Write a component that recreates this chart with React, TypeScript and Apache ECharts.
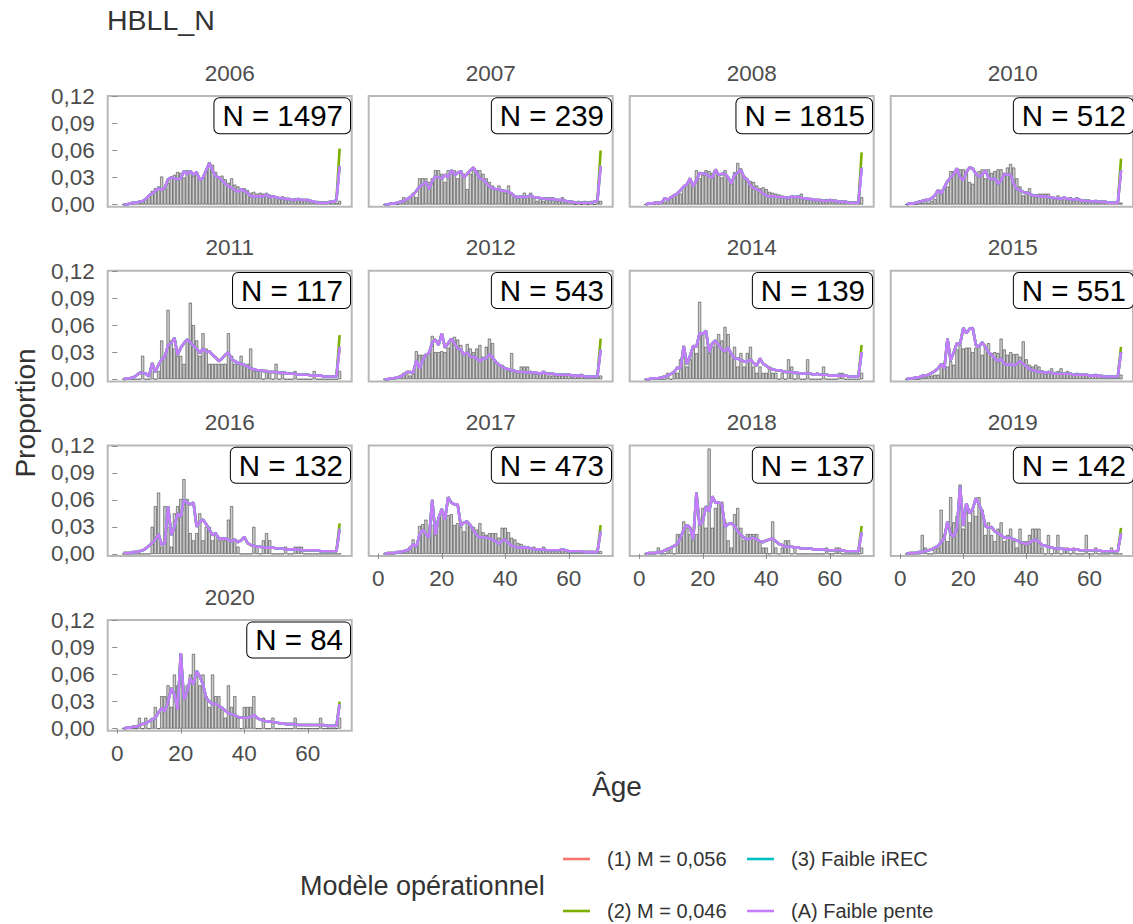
import React, { useEffect, useRef } from 'react';
import * as echarts from 'echarts';

const FONT = '"Liberation Sans", Arial, Helvetica, sans-serif';

// ---------------- DATA ----------------
const chartTitle = 'HBLL_N';
const years = ['2006', '2007', '2008', '2010', '2011', '2012', '2014', '2015', '2016', '2017', '2018', '2019', '2020'];
const sampleSizes = [1497, 239, 1815, 512, 117, 543, 139, 551, 132, 473, 137, 142, 84];
// ages 2..70 (70 = plus group)
const ages = [
  2, 3, 4, 5, 6, 7, 8, 9, 10, 11,
  12, 13, 14, 15, 16, 17, 18, 19, 20, 21,
  22, 23, 24, 25, 26, 27, 28, 29, 30, 31,
  32, 33, 34, 35, 36, 37, 38, 39, 40, 41,
  42, 43, 44, 45, 46, 47, 48, 49, 50, 51,
  52, 53, 54, 55, 56, 57, 58, 59, 60, 61,
  62, 63, 64, 65, 66, 67, 68, 69, 70,
];
const xTicks = [0, 20, 40, 60];
const yTicks = [0, 0.03, 0.06, 0.09, 0.12];

// observed proportions (x 1000)
const obs2006 = [0,0,1,1,2,2,4,7,10,15, 18,20,31,17,24,30,33,36,35,30, 38,36,32,35,27,30,38,47,44,36, 30,32,28,24,29,22,20,17,18,16, 13,14,12,13,12,13,11,10,9,8, 9,7,7,6,7,6,5,5,6,4, 3,4,3,2,3,2,3,2,4];
const obs2007 = [0,0,0,0,0,4,8,4,8,13, 8,29,29,29,25,29,38,38,34,25, 38,34,38,29,38,34,17,34,38,38, 38,34,29,25,21,17,21,17,13,21, 13,8,8,8,13,8,13,8,4,8, 4,8,8,8,4,4,8,4,4,4, 0,4,0,4,0,4,0,4,4];
const obs2008 = [0,0,1,1,1,2,3,5,8,11, 13,12,20,23,28,24,38,29,33,38, 37,35,35,33,30,38,30,28,36,46, 40,32,28,26,25,21,18,19,17,14, 13,12,11,10,9,9,10,9,8,12, 7,7,6,6,5,5,5,6,5,4, 4,4,4,3,3,3,3,2,8];
const obs2010 = [0,0,0,0,2,2,4,2,4,6, 14,16,18,20,37,37,35,39,39,37, 25,23,35,37,39,29,39,35,37,39, 39,35,41,45,41,29,20,10,14,18, 10,8,12,12,12,12,8,6,10,8, 8,6,8,6,8,6,4,4,4,4, 4,2,4,4,2,2,2,2,2];
const obs2011 = [0,0,0,0,0,0,26,0,0,17, 0,9,43,26,77,43,34,26,26,17, 43,85,60,43,26,51,34,17,17,17, 17,17,17,51,26,17,17,26,17,17, 34,9,9,9,0,9,9,0,17,0, 9,0,0,0,9,0,0,0,0,0, 9,0,0,0,0,0,0,0,9];
const obs2012 = [0,0,0,0,2,4,7,7,4,6, 31,27,27,28,29,48,30,30,31,30, 35,42,47,44,38,28,39,34,30,34, 38,25,36,45,40,20,16,16,12,9, 29,8,9,14,14,14,7,6,6,7, 9,6,4,4,4,4,4,4,6,2, 4,2,6,2,2,2,2,2,4];
const obs2014 = [0,0,0,0,0,0,0,7,0,7, 7,22,29,14,22,36,29,86,50,36, 29,36,43,50,43,58,50,29,36,14, 29,14,29,36,14,7,14,7,7,14, 7,7,0,7,0,22,14,0,7,0, 0,22,0,0,0,0,14,0,0,0, 0,7,7,0,0,0,0,0,7];
const obs2015 = [0,0,0,0,0,2,2,4,4,5, 5,16,18,14,20,16,33,38,34,35, 35,30,35,38,27,36,40,29,30,29, 45,33,27,30,28,28,25,42,22,16, 14,16,14,10,9,8,12,8,9,12, 7,9,7,6,7,6,5,5,5,4, 6,4,5,4,2,2,2,2,5];
const obs2016 = [0,0,0,0,0,0,0,0,0,30, 53,68,8,53,30,8,45,53,61,83, 61,23,15,23,45,15,30,30,15,23, 15,15,15,38,53,15,8,0,0,0, 0,30,8,0,15,23,15,0,0,0, 0,8,0,0,8,8,8,0,0,0, 0,0,0,0,0,0,0,0,0];
const obs2017 = [0,0,0,0,2,2,4,4,8,16, 10,31,33,38,23,32,21,41,44,40, 43,44,32,34,30,25,36,32,30,27, 34,24,21,23,23,23,18,29,29,24, 18,16,12,11,9,8,7,8,6,6, 8,5,4,5,5,4,5,4,3,3, 4,4,2,2,3,2,2,2,3];
const obs2018 = [0,0,0,0,7,0,0,7,7,0, 22,22,36,29,22,15,22,36,51,29, 117,29,51,58,58,36,15,7,44,51, 29,15,22,22,22,22,15,7,7,0, 36,7,0,7,15,15,0,7,0,0, 0,0,0,0,0,0,0,7,0,0, 7,7,0,0,0,0,0,0,7];
const obs2019 = [0,0,0,0,0,21,7,0,0,7, 7,49,21,14,63,35,42,77,28,56, 35,49,42,63,49,21,35,21,14,28, 35,14,21,28,14,7,28,14,14,21, 28,28,28,7,0,21,0,7,21,0, 7,7,0,7,0,0,0,21,0,0, 7,0,0,0,0,7,0,0,0];
const obs2020 = [0,0,0,0,0,12,0,12,0,12, 24,0,36,36,48,24,60,48,83,36, 48,60,83,60,48,60,36,24,60,36, 36,24,12,48,24,36,12,0,24,24, 24,36,0,0,12,0,0,12,0,0, 0,0,0,0,12,0,0,0,0,0, 0,0,12,0,0,0,0,0,12];

// fitted proportions, model (A) Faible pente (x 1000)
const fit2006 = [0,0,1,2,2,3,4,6,10,12, 15,18,16,19,28,30,29,28,29,37, 34,37,33,36,27,30,38,46,38,31, 30,27,23,20,19,16,14,17,15,13, 9,9,9,9,9,11,8,9,8,7, 7,6,6,5,5,6,5,5,5,4, 3,2,2,2,2,3,3,5,43];
const fit2007 = [0,0,1,1,2,3,4,6,8,11, 15,20,22,25,17,26,31,30,29,33, 30,38,33,35,37,30,34,38,41,35, 29,28,24,20,18,17,17,15,15,14, 12,9,8,9,8,9,10,8,8,7, 7,6,6,6,5,5,5,4,3,3, 2,2,2,2,2,2,3,4,43];
const fit2008 = [0,1,1,2,2,2,7,5,8,10, 12,16,20,22,29,20,27,35,34,34, 31,30,39,33,34,34,30,23,33,35, 39,30,28,21,18,17,15,12,10,9, 9,9,8,8,8,7,9,8,9,7, 7,6,6,5,5,5,4,4,5,4, 4,3,3,3,2,2,2,2,41];
const fit2010 = [0,1,1,2,3,4,5,5,7,10, 16,12,19,26,30,34,40,30,27,36, 41,40,34,31,33,38,30,28,29,23, 27,34,33,33,23,17,16,14,13,12, 10,10,9,9,9,8,8,7,7,6, 8,6,6,5,6,5,4,4,4,3, 4,3,3,3,2,2,2,2,38];
const fit2011 = [0,1,1,2,4,7,7,6,3,18, 8,16,22,25,38,40,46,27,35,40, 44,41,37,34,29,34,30,31,27,24, 20,23,27,30,22,20,18,17,16,14, 12,11,10,10,9,9,8,8,8,7, 7,7,6,6,6,5,5,5,5,4, 4,4,4,3,3,3,3,3,36];
const fit2012 = [0,0,1,1,2,3,5,8,8,7, 21,12,21,27,29,41,44,38,51,35, 40,45,40,34,33,27,30,25,25,23, 20,23,23,28,24,19,16,14,12,11, 10,9,8,8,8,7,8,7,7,6, 8,6,6,6,5,5,5,5,5,4, 4,4,4,3,3,3,3,3,33];
const fit2014 = [0,0,1,1,1,2,3,4,6,8, 13,12,37,17,26,37,36,51,50,54, 30,40,43,38,33,31,35,28,23,23, 21,20,19,22,18,15,23,17,15,12, 11,10,10,9,8,8,8,7,7,6, 6,7,6,5,6,5,5,5,4,4, 4,4,4,4,3,3,3,3,30];
const fit2015 = [0,1,1,2,2,4,4,5,7,9, 12,17,12,45,21,30,40,39,57,51, 56,57,38,36,41,36,30,27,23,20, 23,17,16,17,15,17,20,17,14,11, 10,9,8,8,7,8,7,6,6,6, 6,6,6,5,5,5,5,5,4,4, 4,4,3,3,3,3,3,3,30];
const fit2016 = [1,1,1,2,2,3,4,6,9,12, 16,22,10,12,53,21,30,45,41,60, 57,55,57,30,36,38,33,27,21,23, 17,17,17,16,14,16,13,15,19,12, 10,9,8,8,7,7,7,7,6,6, 6,5,5,5,5,5,4,4,4,4, 4,4,3,3,3,3,3,3,28];
const fit2017 = [0,1,1,1,2,2,3,4,6,11, 8,21,27,22,18,60,21,40,50,38, 63,57,55,55,31,35,36,32,26,21, 18,19,18,17,16,14,11,15,16,12, 9,8,7,7,7,7,6,5,5,5, 5,4,4,4,4,4,5,4,3,3, 3,3,3,2,2,2,2,2,25];
const fit2018 = [0,1,1,1,2,2,4,5,7,9, 11,18,27,32,29,16,68,32,36,53, 47,64,57,57,55,30,33,34,31,25, 21,18,16,17,18,16,14,13,15,16, 17,14,11,10,8,8,8,7,7,6, 6,6,6,5,5,5,5,4,4,4, 4,4,4,3,3,3,3,3,24];
const fit2019 = [0,1,1,1,2,2,3,4,5,7, 9,13,18,36,22,19,29,75,31,56, 45,50,62,55,47,31,29,30,25,23, 21,18,18,18,16,15,13,12,11,12, 15,16,13,10,9,8,7,6,6,6, 5,5,5,5,5,4,4,4,4,4, 4,4,3,3,3,3,3,3,23];
const fit2020 = [0,1,1,2,2,4,5,6,8,10, 12,18,23,19,30,45,38,21,84,32, 41,56,49,64,58,49,34,30,27,28, 25,23,20,17,16,15,13,12,12,12, 13,15,12,10,9,8,8,7,7,6, 6,5,5,5,5,4,4,4,4,4, 4,4,4,4,3,3,3,3,27];

// plus-group (age 70) fitted value for model (2) M = 0,046 (x 1000)
const plusM046 = [62, 60, 58, 51, 49, 45, 38, 36, 34, 32, 31, 29, 30];

const observed = [obs2006, obs2007, obs2008, obs2010, obs2011, obs2012, obs2014, obs2015, obs2016, obs2017, obs2018, obs2019, obs2020];
const fitted = [fit2006, fit2007, fit2008, fit2010, fit2011, fit2012, fit2014, fit2015, fit2016, fit2017, fit2018, fit2019, fit2020];

const models = ['(1) M = 0,056', '(2) M = 0,046', '(3) Faible iREC', '(A) Faible pente'];
const modelColors = ['#F8766D', '#7CAE00', '#00BFC4', '#C77CFF'];

// ---------------- LAYOUT ----------------
const colLeft = [107.7, 368.7, 629.7, 890.7];
const rowTop = [96, 270.7, 445.4, 620.1];
const PW = 244;
const PH = 110.7;

function buildOption() {
  const grid: any[] = [];
  const xAxis: any[] = [];
  const yAxis: any[] = [];
  const series: any[] = [];
  const graphic: any[] = [];

  graphic.push({
    type: 'text', left: 107, top: 5,
    style: { text: chartTitle, fontSize: 28.5, fontFamily: FONT, fill: '#333333' },
  });

  years.forEach((yr, i) => {
    const r = Math.floor(i / 4);
    const c = i % 4;
    const left = colLeft[c];
    const top = rowTop[r];
    const showX = i >= 9;
    const showY = c === 0;
    grid.push({
      left, top, width: PW, height: PH, show: true,
      borderColor: '#b8b8b8', borderWidth: 2, backgroundColor: '#ffffff', containLabel: false,
    });
    xAxis.push({
      type: 'value', gridIndex: i, min: -3, max: 73.8,
      axisLine: { show: false }, splitLine: { show: false },
      axisTick: { show: showX, length: 5, lineStyle: { color: '#8c8c8c', width: 1 }, customValues: xTicks },
      axisLabel: { show: showX, customValues: xTicks, fontSize: 22.5, fontFamily: FONT, color: '#4d4d4d', margin: 11 },
    });
    yAxis.push({
      type: 'value', gridIndex: i, min: -0.00244, max: 0.12056,
      axisLine: { show: false }, splitLine: { show: false },
      axisTick: { show: showY, length: 5, lineStyle: { color: '#8c8c8c', width: 1 }, customValues: yTicks },
      axisLabel: {
        show: showY, customValues: yTicks, fontSize: 22.5, fontFamily: FONT, color: '#4d4d4d', margin: 13,
        formatter: (v: number) => v.toFixed(2).replace('.', ','),
      },
    });

    const obs = observed[i];
    const fit = fitted[i];
    series.push({
      type: 'bar', xAxisIndex: i, yAxisIndex: i, silent: true,
      data: ages.map((a, j) => [a, obs[j] / 1000]),
      barWidth: 3,
      itemStyle: { color: '#cdcdcd', borderColor: '#262626', borderWidth: 0.5 },
    });
    models.forEach((m, k) => {
      const data = ages.map((a, j) => {
        let v = fit[j];
        if (k === 1 && j === ages.length - 1) v = plusM046[i];
        return [a, v / 1000];
      });
      series.push({
        type: 'line', name: m, xAxisIndex: i, yAxisIndex: i, silent: true,
        data, symbol: 'none', showSymbol: false,
        lineStyle: { color: modelColors[k], width: 2.6 },
        itemStyle: { color: modelColors[k] },
        z: 3 + k,
      });
    });

    // strip label
    graphic.push({
      type: 'text', x: left + PW / 2, y: top - 23,
      style: { text: yr, fontSize: 22.5, fontFamily: FONT, fill: '#4d4d4d', align: 'center', verticalAlign: 'middle' },
    });
    // N label
    graphic.push({
      type: 'text', x: left + PW - 1.7, y: top + 2.3, z: 100,
      style: {
        text: 'N = ' + sampleSizes[i], fontSize: 29.5, fontFamily: FONT, fill: '#000000',
        align: 'right', verticalAlign: 'top', lineHeight: 27,
        backgroundColor: '#ffffff', borderColor: '#000000', borderWidth: 1, borderRadius: 5,
        padding: [4, 7, 4, 8],
      },
    });
  });

  // axis titles
  graphic.push({
    type: 'text', x: 25, y: 413, rotation: Math.PI / 2,
    style: { text: 'Proportion', fontSize: 28, fontFamily: FONT, fill: '#333333', align: 'center', verticalAlign: 'middle' },
  });
  graphic.push({
    type: 'text', x: 617, y: 786,
    style: { text: 'Âge', fontSize: 28, fontFamily: FONT, fill: '#333333', align: 'center', verticalAlign: 'middle' },
  });

  // legend
  graphic.push({
    type: 'text', x: 300, y: 886,
    style: { text: 'Modèle opérationnel', fontSize: 27, fontFamily: FONT, fill: '#333333', align: 'left', verticalAlign: 'middle' },
  });
  const legendPos = [
    { x: 563, y: 859 }, // (1)
    { x: 563, y: 911 }, // (2)
    { x: 747, y: 859 }, // (3)
    { x: 747, y: 911 }, // (A)
  ];
  models.forEach((m, k) => {
    const p = legendPos[k];
    graphic.push({
      type: 'line', shape: { x1: p.x, y1: p.y, x2: p.x + 27, y2: p.y },
      style: { stroke: modelColors[k], lineWidth: 2.6 },
    });
    graphic.push({
      type: 'text', x: p.x + 44, y: p.y,
      style: { text: m, fontSize: 20, fontFamily: FONT, fill: '#333333', align: 'left', verticalAlign: 'middle' },
    });
  });

  return {
    animation: false,
    backgroundColor: '#ffffff',
    textStyle: { fontFamily: FONT },
    grid, xAxis, yAxis, series, graphic,
  };
}

export default function App() {
  const ref = useRef<HTMLDivElement>(null);
  useEffect(() => {
    document.body.style.margin = '0';
    if (!ref.current) return;
    const chart = echarts.init(ref.current, undefined, { renderer: 'svg' });
    chart.setOption(buildOption() as any);
    return () => chart.dispose();
  }, []);
  return <div ref={ref} style={{ width: 1133, height: 924 }} />;
}
